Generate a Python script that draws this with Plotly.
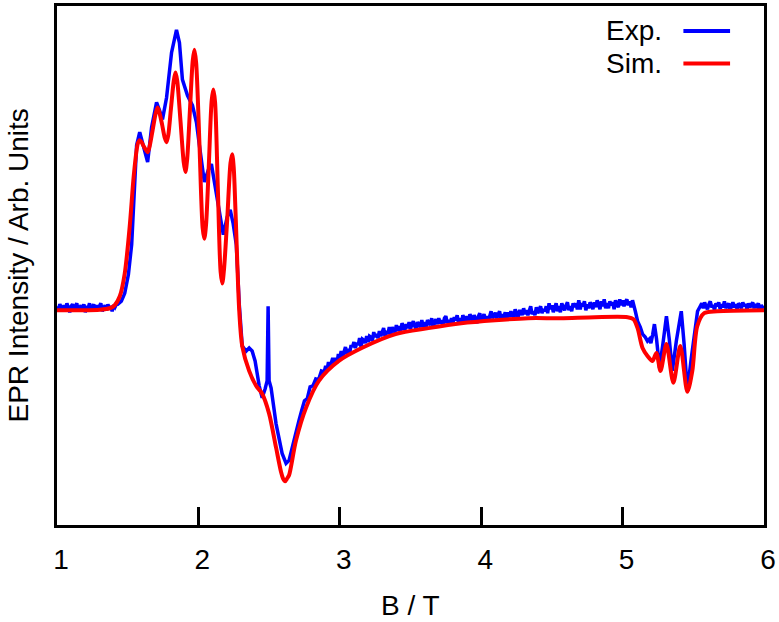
import plotly.graph_objs as go

# ---- experimental trace, read off the picture in pieces ----
# flat noisy baseline before the absorption
exp_b_low = [1.00, 1.01, 1.02, 1.03, 1.04, 1.05, 1.06, 1.07, 1.08, 1.09,
             1.10, 1.11, 1.12, 1.13, 1.14, 1.15, 1.16, 1.17, 1.18, 1.19,
             1.20, 1.21, 1.22, 1.23, 1.24, 1.25, 1.26, 1.27, 1.28, 1.29,
             1.30, 1.31, 1.32, 1.33, 1.34, 1.35, 1.36, 1.37, 1.38, 1.39,
             1.40, 1.41, 1.42]
exp_y_low = [0.03, -0.01, 0.05, 0.02, -0.02, 0.04, 0.00, 0.06, 0.01, -0.03,
             0.03, 0.05, -0.01, 0.02, 0.06, -0.02, 0.01, 0.04, 0.00, 0.05,
             -0.03, 0.03, 0.01, 0.06, -0.01, 0.02, 0.05, -0.02, 0.04, 0.00,
             0.03, 0.06, -0.02, 0.02, 0.04, -0.01, 0.05, 0.01, 0.03, -0.02,
             0.04, 0.02, 0.05]

# main powder pattern
exp_b_main = [1.430, 1.455, 1.479, 1.505, 1.528, 1.545, 1.563, 1.585, 1.613, 1.641, 1.669, 1.704,
              1.725, 1.746, 1.775, 1.810, 1.845, 1.866, 1.887, 1.923, 1.958, 1.986, 2.007, 2.042,
              2.070, 2.092, 2.113, 2.134, 2.176, 2.204, 2.225, 2.246, 2.268, 2.289, 2.310, 2.338,
              2.359, 2.380, 2.401, 2.430, 2.451, 2.472, 2.486, 2.493, 2.500, 2.514, 2.549, 2.592,
              2.620, 2.641, 2.662, 2.690, 2.711, 2.73, 2.75, 2.77, 2.79, 2.81, 2.83, 2.85, 2.87,
              2.89]
exp_y_main = [0.05, 0.08, 0.16, 0.35, 0.65, 1.20, 1.65, 1.78, 1.63, 1.48, 1.83, 2.08,
              2.00, 1.91, 2.13, 2.58, 2.81, 2.68, 2.31, 2.15, 2.05, 1.88, 1.65, 1.28,
              1.40, 1.46, 1.28, 1.11, 0.75, 0.93, 1.00, 0.86, 0.65, 0.05, -0.37, -0.42,
              -0.39, -0.42, -0.52, -0.77, -0.89, -0.80, -0.72, 0.03, -0.72, -0.79, -1.15, -1.45,
              -1.55, -1.52, -1.39, -1.25, -1.12, -1.02, -0.92, -0.90, -0.78, -0.77, -0.70, -0.71, -0.62,
              -0.63]

# slowly recovering noisy tail
exp_b_tail = [2.90, 2.91, 2.92, 2.93, 2.94, 2.95, 2.96, 2.97, 2.98, 2.99,
              3.00, 3.01, 3.02, 3.03, 3.04, 3.05, 3.06, 3.07, 3.08, 3.09,
              3.10, 3.11, 3.12, 3.13, 3.14, 3.15, 3.16, 3.17, 3.18, 3.19,
              3.20, 3.21, 3.22, 3.23, 3.24, 3.25, 3.26, 3.27, 3.28, 3.29,
              3.30, 3.31, 3.32, 3.33, 3.34, 3.35, 3.36, 3.37, 3.38, 3.39,
              3.40, 3.41, 3.42, 3.43, 3.44, 3.45, 3.46, 3.47, 3.48, 3.49,
              3.50, 3.51, 3.52, 3.53, 3.54, 3.55, 3.56, 3.57, 3.58, 3.59,
              3.60, 3.61, 3.62, 3.63, 3.64, 3.65, 3.66, 3.67, 3.68, 3.69,
              3.70, 3.71, 3.72, 3.73, 3.74, 3.75, 3.76, 3.77, 3.78, 3.79,
              3.80, 3.81, 3.82, 3.83, 3.84, 3.85, 3.86, 3.87, 3.88, 3.89,
              3.90, 3.91, 3.92, 3.93, 3.94, 3.95, 3.96, 3.97, 3.98, 3.99,
              4.00, 4.01, 4.02, 4.03, 4.04, 4.05, 4.06, 4.07, 4.08, 4.09,
              4.10, 4.11, 4.12, 4.13, 4.14, 4.15, 4.16, 4.17, 4.18, 4.19,
              4.20, 4.21, 4.22, 4.23, 4.24, 4.25, 4.26, 4.27, 4.28, 4.29,
              4.30, 4.31, 4.32, 4.33, 4.34, 4.35, 4.36, 4.37, 4.38, 4.39,
              4.40, 4.41, 4.42, 4.43, 4.44, 4.45, 4.46, 4.47, 4.48, 4.49,
              4.50, 4.51, 4.52, 4.53, 4.54, 4.55, 4.56, 4.57, 4.58, 4.59,
              4.60, 4.61, 4.62, 4.63, 4.64, 4.65, 4.66, 4.67, 4.68, 4.69,
              4.70, 4.71, 4.72, 4.73, 4.74, 4.75, 4.76, 4.77, 4.78, 4.79,
              4.80, 4.81, 4.82, 4.83, 4.84, 4.85, 4.86, 4.87, 4.88, 4.89,
              4.90, 4.91, 4.92, 4.93, 4.94, 4.95, 4.96, 4.97, 4.98, 4.99,
              5.00, 5.01, 5.02, 5.03, 5.04, 5.05, 5.06, 5.07]
exp_y_tail = [-0.57, -0.61, -0.53, -0.59, -0.54, -0.49, -0.54, -0.49, -0.54, -0.45,
              -0.49, -0.42, -0.48, -0.42, -0.38, -0.45, -0.40, -0.44, -0.36, -0.38,
              -0.33, -0.39, -0.34, -0.36, -0.29, -0.38, -0.30, -0.31, -0.34, -0.27,
              -0.33, -0.27, -0.28, -0.32, -0.23, -0.28, -0.25, -0.29, -0.22, -0.27,
              -0.22, -0.19, -0.27, -0.22, -0.25, -0.18, -0.26, -0.18, -0.21, -0.23,
              -0.16, -0.22, -0.17, -0.23, -0.14, -0.18, -0.21, -0.15, -0.19, -0.13,
              -0.20, -0.15, -0.12, -0.17, -0.20, -0.13, -0.15, -0.18, -0.11, -0.18,
              -0.13, -0.18, -0.11, -0.14, -0.16, -0.09, -0.18, -0.13, -0.10, -0.15,
              -0.09, -0.14, -0.11, -0.17, -0.09, -0.07, -0.14, -0.11, -0.15, -0.09,
              -0.14, -0.08, -0.11, -0.06, -0.14, -0.09, -0.15, -0.06, -0.09, -0.12,
              -0.07, -0.13, -0.05, -0.09, -0.12, -0.06, -0.10, -0.14, -0.07, -0.04,
              -0.12, -0.07, -0.05, -0.11, -0.07, -0.12, -0.05, -0.02, -0.09, -0.06,
              -0.035, -0.09, -0.06, -0.02, -0.10, -0.05, -0.08, -0.03, -0.10, -0.03,
              -0.08, -0.02, -0.06, -0.08, 0.00, -0.04, -0.09, -0.02, -0.02, -0.06,
              0.01, -0.05, -0.01, -0.06, -0.01, 0.03, -0.05, -0.02, -0.06, 0.02,
              -0.04, 0.01, 0.03, -0.04, 0.00, -0.02, 0.03, -0.04, 0.06, 0.00,
              0.04, -0.03, 0.02, 0.06, -0.02, 0.03, -0.03, 0.06, 0.02, -0.01,
              0.04, 0.07, -0.01, 0.03, -0.02, 0.06, 0.02, 0.06, 0.00, 0.09,
              0.00, 0.06, 0.03, 0.08, -0.01, 0.05, 0.01, 0.07, 0.04, 0.00,
              0.07, 0.02, 0.09, 0.05, 0.00, 0.08, 0.03, 0.10, 0.01, 0.06,
              0.01, 0.08, 0.04, 0.07, 0.00, 0.09, 0.05, 0.02, 0.10, 0.04,
              0.09, 0.03, 0.07, 0.10, 0.04, 0.08, 0.02, 0.09]

# high-field features around 5.3 T
exp_b_high = [5.090, 5.106, 5.125, 5.141, 5.160, 5.176, 5.190, 5.200, 5.212, 5.225, 5.240, 5.261,
              5.285, 5.310, 5.330, 5.352, 5.380, 5.415, 5.435, 5.458, 5.485, 5.514, 5.530, 5.549]
exp_y_high = [-0.02, -0.12, -0.18, -0.25, -0.28, -0.32, -0.30, -0.34, -0.26, -0.15, -0.30, -0.59,
              -0.35, -0.07, -0.30, -0.62, -0.32, -0.02, -0.35, -0.82, -0.50, -0.15, -0.02, 0.03]

# noisy baseline up to 6 T
exp_b_end = [5.56, 5.57, 5.58, 5.59, 5.60, 5.61, 5.62, 5.63, 5.64, 5.65,
             5.66, 5.67, 5.68, 5.69, 5.70, 5.71, 5.72, 5.73, 5.74, 5.75,
             5.76, 5.77, 5.78, 5.79, 5.80, 5.81, 5.82, 5.83, 5.84, 5.85,
             5.86, 5.87, 5.88, 5.89, 5.90, 5.91, 5.92, 5.93, 5.94, 5.95,
             5.96, 5.97, 5.98, 5.99, 6.00]
exp_y_end = [0.06, 0.01, 0.07, 0.03, 0.00, 0.05, 0.08, 0.02, 0.04, -0.01,
             0.06, 0.03, 0.07, 0.00, 0.05, 0.02, 0.08, 0.01, 0.04, 0.06,
             -0.01, 0.03, 0.07, 0.02, 0.05, 0.00, 0.06, 0.04, 0.01, 0.07,
             0.03, 0.05, 0.00, 0.06, 0.02, 0.04, 0.07, 0.01, 0.05, 0.03,
             0.06, 0.00, 0.04, 0.02, 0.03]

# ---- simulated trace ----
sim_b = [1.000, 1.162, 1.303, 1.373, 1.408, 1.444, 1.479, 1.514, 1.542, 1.563, 1.572, 1.585, 1.598,
         1.613, 1.630, 1.641, 1.652, 1.676, 1.698, 1.711, 1.724, 1.743, 1.763, 1.775, 1.787, 1.806,
         1.826, 1.838, 1.850, 1.873, 1.896, 1.908, 1.920, 1.940, 1.960, 1.972, 1.984, 2.007, 2.030,
         2.042, 2.054, 2.074, 2.094, 2.106, 2.118, 2.137, 2.157, 2.169, 2.181, 2.204, 2.227, 2.239,
         2.250, 2.262, 2.289, 2.310, 2.359, 2.408, 2.451, 2.500, 2.549, 2.585, 2.598, 2.613, 2.628,
         2.641, 2.690, 2.761, 2.852, 2.993, 3.155, 3.394, 3.627, 3.859, 4.099, 4.331,
         4.563, 4.803, 5.035, 5.077, 5.106, 5.141, 5.176, 5.211, 5.239, 5.268, 5.310, 5.359, 5.408,
         5.458, 5.493, 5.528, 5.577, 5.669, 6.000]
sim_y = [-0.01, -0.01, -0.005, 0.01, 0.04, 0.13, 0.36, 0.83, 1.33, 1.60, 1.67, 1.70, 1.68,
         1.64, 1.60, 1.58, 1.62, 1.80, 1.97, 2.03, 1.98, 1.86, 1.72, 1.68, 1.75, 2.02,
         2.30, 2.38, 2.30, 1.90, 1.48, 1.38, 1.50, 2.00, 2.50, 2.61, 2.48, 1.68, 0.82,
         0.71, 0.85, 1.46, 2.10, 2.21, 2.08, 1.24, 0.38, 0.26, 0.40, 0.91, 1.47, 1.56,
         1.42, 1.00, -0.02, -0.37, -0.62, -0.77, -0.85, -1.05, -1.39, -1.64, -1.70, -1.73, -1.70,
         -1.67, -1.32, -0.99, -0.72, -0.52, -0.39, -0.25, -0.19, -0.14, -0.11, -0.09,
         -0.09, -0.08, -0.08, -0.10, -0.19, -0.39, -0.47, -0.52, -0.44, -0.62, -0.35, -0.74, -0.37,
         -0.83, -0.62, -0.17, -0.04, -0.02, -0.01]

x_ticks = [1, 2, 3, 4, 5, 6]

FONT = "Liberation Sans, Arial, sans-serif"

exp_b = exp_b_low + exp_b_main + exp_b_tail + exp_b_high + exp_b_end
exp_y = exp_y_low + exp_y_main + exp_y_tail + exp_y_high + exp_y_end
assert len(exp_b) == len(exp_y), (len(exp_b), len(exp_y))
assert len(sim_b) == len(sim_y), (len(sim_b), len(sim_y))

fig = go.Figure()
fig.add_trace(go.Scatter(x=exp_b, y=exp_y, mode="lines", name="Exp.",
                         line=dict(color="#0000ff", width=3.5)))
fig.add_trace(go.Scatter(x=sim_b, y=sim_y, mode="lines", name="Sim.",
                         line=dict(color="#ff0000", width=4, shape="spline", smoothing=0.8)))

fig.update_layout(
    width=779, height=622,
    margin=dict(l=57, r=12, t=3, b=97),
    plot_bgcolor="white", paper_bgcolor="white",
    showlegend=False,
    font=dict(family=FONT, size=28, color="black"),
)
fig.update_xaxes(range=[1, 6], tickvals=x_ticks, ticks="inside", ticklen=18, tickwidth=2.5,
                 tickcolor="black", showline=True, linewidth=3, linecolor="black", mirror=True,
                 showgrid=False, zeroline=False, ticklabelstandoff=7, ticklabelshift=4,
                 tickfont=dict(family=FONT, size=28))
fig.update_yaxes(range=[-2.17, 3.05], showticklabels=False, ticks="", showline=True, linewidth=3,
                 linecolor="black", mirror=True, showgrid=False, zeroline=False)

# axis titles
fig.add_annotation(text="B / T", xref="paper", yref="paper", x=0.5, y=0, yshift=-80,
                   xanchor="center", yanchor="middle", showarrow=False, font=dict(size=28))
fig.add_annotation(text="EPR Intensity / Arb. Units", xref="paper", yref="paper", x=0, y=0.5,
                   xshift=-39, xanchor="center", yanchor="middle", textangle=-90, showarrow=False,
                   font=dict(size=28))

# legend: text on the left, line sample on the right
for label, color, ly in [("Exp.", "#0000ff", 0.952), ("Sim.", "#ff0000", 0.889)]:
    fig.add_annotation(text=label, xref="paper", yref="paper", x=0.859, y=ly,
                       xanchor="right", yanchor="middle", showarrow=False, font=dict(size=28))
    fig.add_shape(type="line", xref="paper", yref="paper", x0=0.886, x1=0.952, y0=ly, y1=ly,
                  line=dict(color=color, width=4))

fig.write_html("out.html", config={"displayModeBar": False},
               post_script="document.body.style.margin='0';")
